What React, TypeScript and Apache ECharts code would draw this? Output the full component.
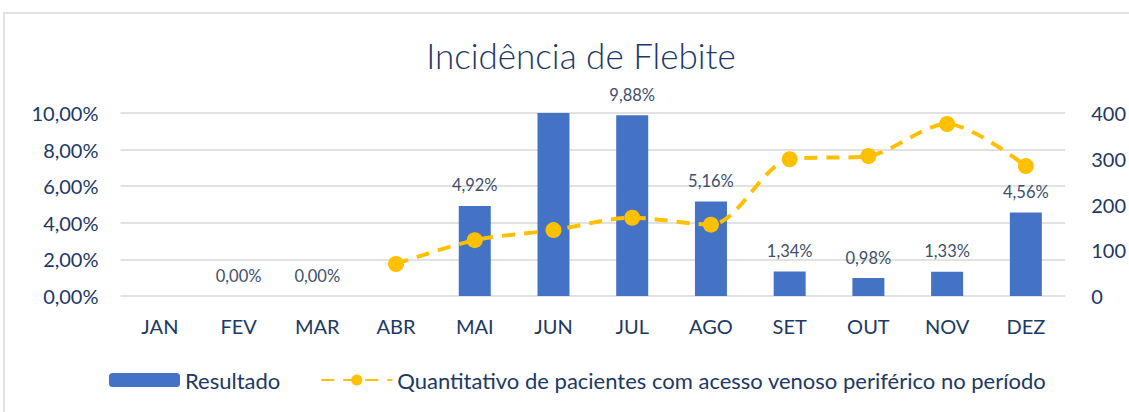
import React, { useEffect, useRef } from "react";
import * as echarts from "echarts";

const categories = ["JAN", "FEV", "MAR", "ABR", "MAI", "JUN", "JUL", "AGO", "SET", "OUT", "NOV", "DEZ"];
// Resultado (%) — JUN exceeds the 10% axis max (clipped, no label in reference)
const resultado: (number | null)[] = [null, 0, 0, null, 4.92, 10.5, 9.88, 5.16, 1.34, 0.98, 1.33, 4.56];
const hiddenLabel = [false, false, false, false, false, true, false, false, false, false, false, false];
// Quantitativo de pacientes com acesso venoso periférico
const quantitativo: (number | null)[] = [null, null, null, 70, 122, 144, 171, 156, 299, 306, 376, 284];

const leftTicks = { min: 0, max: 10, interval: 2 };
const rightTicks = { min: 0, max: 400, interval: 100 };

const FONT = "Lato";
const NAVY = "#203864";
const LABEL = "#404F6A";

export default function App() {
  const ref = useRef<HTMLDivElement>(null);
  useEffect(() => {
    if (!ref.current) return;
    const chart = echarts.init(ref.current, null, { renderer: "svg" });
    const fmtPct = (v: number) => v.toFixed(2).replace(".", ",") + "%";
    chart.setOption({
      animation: false,
      backgroundColor: "#ffffff",
      textStyle: { fontFamily: FONT },
      title: {
        text: "Incidência de Flebite",
        left: 576,
        textAlign: "center",
        top: 32,
        textStyle: { fontFamily: FONT, fontSize: 35, fontWeight: 300, color: NAVY },
      },
      graphic: [
        {
          type: "rect",
          shape: { x: 4, y: 13, width: 1140, height: 420 },
          style: { fill: "none", stroke: "#D9D9D9", lineWidth: 1.5 },
          silent: true,
        },
      ],
      grid: { left: 120.5, right: 62.5, top: 113, bottom: 116, containLabel: false },
      legend: {
        bottom: 16,
        left: 104,
        itemWidth: 71,
        itemHeight: 14,
        itemGap: 40,
        textStyle: { fontFamily: FONT, fontSize: 22, color: NAVY },
        data: ["Resultado", "Quantitativo de pacientes com acesso venoso periférico no período"],
      },
      xAxis: {
        type: "category",
        data: categories,
        axisLine: { show: false },
        axisTick: { show: false },
        axisLabel: { fontFamily: FONT, fontSize: 20, color: NAVY, margin: 20 },
      },
      yAxis: [
        {
          type: "value",
          ...leftTicks,
          axisLine: { show: false },
          axisTick: { show: false },
          splitLine: { lineStyle: { color: "#D9D9D9", width: 1.5 } },
          axisLabel: { fontFamily: FONT, fontSize: 20, color: NAVY, margin: 22, formatter: fmtPct },
        },
        {
          type: "value",
          ...rightTicks,
          position: "right",
          axisLine: { show: false },
          axisTick: { show: false },
          splitLine: { show: false },
          axisLabel: { fontFamily: FONT, fontSize: 20, color: NAVY, margin: 26 },
        },
      ],
      series: [
        {
          name: "Resultado",
          type: "bar",
          yAxisIndex: 0,
          barWidth: 32,
          clip: true,
          itemStyle: { color: "#4472C4" },
          data: resultado.map((v, i) => ({
            value: v,
            label: { show: v !== null && !hiddenLabel[i] },
          })),
          label: {
            show: true,
            position: "top",
            distance: 12,
            fontFamily: FONT,
            fontSize: 16.5,
            color: LABEL,
            formatter: (p: any) => fmtPct(p.value),
          },
          z: 2,
        },
        {
          name: "Quantitativo de pacientes com acesso venoso periférico no período",
          type: "line",
          yAxisIndex: 1,
          data: quantitativo,
          smooth: 0.3,
          symbol: "circle",
          symbolSize: 16,
          itemStyle: { color: "#FFC000" },
          lineStyle: { color: "#FFC000", width: 4, type: [13, 9] },
          z: 3,
        },
      ],
    });
    return () => chart.dispose();
  }, []);
  return (
    <div
      ref={ref}
      style={{ position: "fixed", left: 0, top: 0, width: 1129, height: 412, background: "#fff" }}
    />
  );
}
